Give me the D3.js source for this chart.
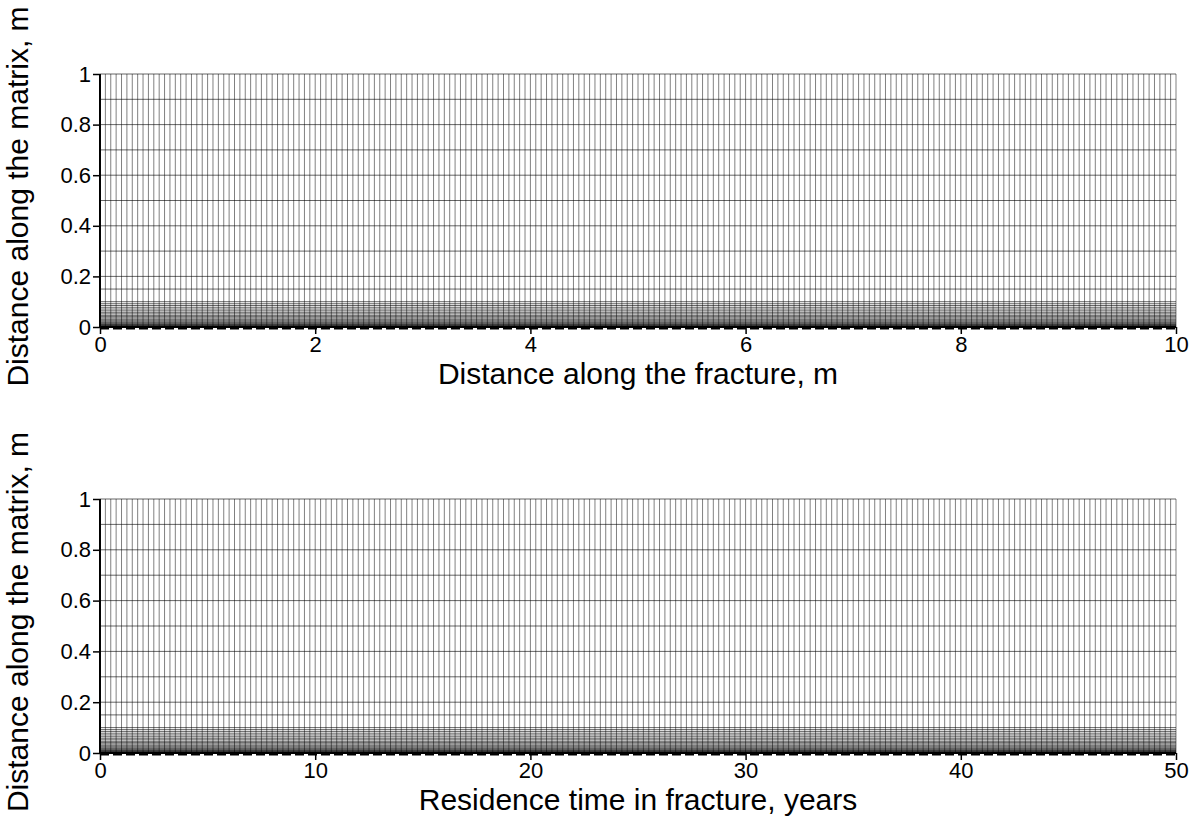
<!DOCTYPE html>
<html>
<head>
<meta charset="utf-8">
<script src="https://cdn.jsdelivr.net/npm/d3@7"></script>
<style>
  body { margin: 0; background: #fff; }
  svg text { font-family: "Liberation Sans", Arial, sans-serif; fill: #000; }
</style>
</head>
<body>
<div id="chart"></div>
<script>
// mesh along the fracture: cell count and extents of each panel
const fractureCells = 200;
const fractureLength = 10;      // m
const residenceTime = 50;       // years
// matrix mesh levels (m), refined towards the fracture
const matrixLevels = [1, 0.9, 0.8, 0.7, 0.6, 0.5, 0.4, 0.3, 0.2, 0.15, 0.1,
  0.092, 0.085, 0.078, 0.071, 0.064, 0.058, 0.052, 0.046, 0.041, 0.036,
  0.031, 0.027, 0.023, 0.019, 0.016, 0.013, 0.01, 0.008, 0.006, 0.004, 0.002, 0];
const yTicks = [0, 0.2, 0.4, 0.6, 0.8, 1];
const xTicksTop = [0, 2, 4, 6, 8, 10];
const xTicksBottom = [0, 10, 20, 30, 40, 50];

const W = 1192, H = 821;
const svg = d3.select('#chart').append('svg')
  .attr('width', W).attr('height', H);

function panel(top, bottom, xmax, xticks, xlabel) {
  const x = d3.scaleLinear().domain([0, xmax]).range([100, 1176]);
  const y = d3.scaleLinear().domain([0, 1]).range([bottom, top]);
  const g = svg.append('g');
  const step = xmax / fractureCells;
  const cols = d3.range(fractureCells + 1).map(i => i * step);

  // vertical mesh lines
  g.append('g').selectAll('line').data(cols).join('line')
    .attr('x1', d => x(d)).attr('x2', d => x(d))
    .attr('y1', y(0)).attr('y2', y(1))
    .attr('stroke', '#000').attr('stroke-width', 0.5);
  // horizontal mesh lines
  g.append('g').selectAll('line').data(matrixLevels).join('line')
    .attr('x1', x(0)).attr('x2', x(xmax))
    .attr('y1', d => y(d)).attr('y2', d => y(d))
    .attr('stroke', '#000').attr('stroke-width', 0.6);

  // fracture (dashed thick line)
  g.append('line')
    .attr('x1', x(0)).attr('x2', x(xmax))
    .attr('y1', y(0) + 1).attr('y2', y(0) + 1)
    .attr('stroke', '#000').attr('stroke-width', 3)
    .attr('stroke-dasharray', '9,4');

  const yax = g.append('g')
    .attr('transform', `translate(${x(0)},0)`)
    .call(d3.axisLeft(y).tickValues(yTicks).tickSize(7).tickPadding(2)
      .tickFormat(d3.format('~g')));
  const xax = g.append('g')
    .attr('transform', `translate(0,${y(0)})`)
    .call(d3.axisBottom(x).tickValues(xticks).tickSize(7).tickPadding(2)
      .tickFormat(d3.format('~g')));
  [xax, yax].forEach(a => {
    a.attr('font-size', null).attr('font-family', null);
    a.selectAll('path').attr('stroke', '#000').attr('stroke-width', 2);
    a.selectAll('line').attr('stroke', '#000').attr('stroke-width', 1.5);
    a.selectAll('text').style('font-size', '22px');
  });
  xax.select('.domain').attr('d', `M${x(0)},0H${x(xmax)}`);
  yax.select('.domain').attr('d', `M0,${y(0)}V${y(1)}`);

  svg.append('text')
    .attr('x', 638).attr('y', y(0) + 57)
    .attr('text-anchor', 'middle')
    .style('font-size', '30px')
    .text(xlabel);
  svg.append('text')
    .attr('transform', `translate(28,${(top + bottom) / 2 - 4}) rotate(-90)`)
    .attr('text-anchor', 'middle')
    .style('font-size', '30px')
    .text('Distance along the matrix, m');
}

panel(74, 327, fractureLength, xTicksTop, 'Distance along the fracture, m');
panel(499, 753, residenceTime, xTicksBottom, 'Residence time in fracture, years');
</script>
</body>
</html>
